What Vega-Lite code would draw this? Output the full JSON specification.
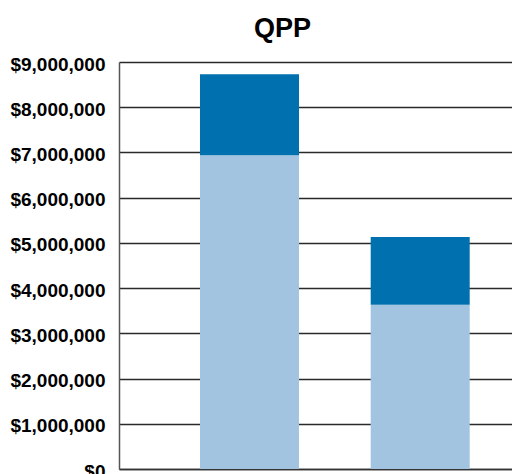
{
  "$schema": "https://vega.github.io/schema/vega-lite/v6.json",
  "autosize": "none",
  "width": 393,
  "height": 407,
  "padding": {"left": 119, "top": 62, "right": 0, "bottom": 5},
  "background": "white",
  "title": {
    "text": "QPP",
    "font": "Liberation Sans",
    "fontSize": 27,
    "fontWeight": "bold",
    "color": "#000000",
    "anchor": "middle",
    "dx": -33,
    "offset": 12
  },
  "data": {
    "values": [
      {"group": "A", "part": "base", "order": 1, "value": 6940000},
      {"group": "A", "part": "extra", "order": 2, "value": 1790000},
      {"group": "B", "part": "base", "order": 1, "value": 3630000},
      {"group": "B", "part": "extra", "order": 2, "value": 1500000}
    ]
  },
  "mark": {"type": "bar"},
  "encoding": {
    "x": {
      "field": "group",
      "type": "nominal",
      "scale": {"paddingInner": 0.42, "paddingOuter": 0.4745, "range": [0, 431.7]},
      "axis": {"title": null, "labels": false, "ticks": false, "domainColor": "#333333", "domainWidth": 1.5, "grid": false}
    },
    "y": {
      "field": "value",
      "type": "quantitative",
      "stack": "zero",
      "scale": {"domain": [0, 9000000], "nice": false},
      "axis": {
        "title": null,
        "values": [0, 1000000, 2000000, 3000000, 4000000, 5000000, 6000000, 7000000, 8000000, 9000000],
        "format": "$,.0f",
        "labelFont": "Liberation Sans",
        "labelFontWeight": "bold",
        "labelFontSize": 19,
        "labelColor": "#000000",
        "labelPadding": 14,
        "labelOffset": 2,
        "labelOverlap": false,
        "labelBound": false,
        "ticks": false,
        "domainColor": "#555555",
        "domainWidth": 1.5,
        "grid": true,
        "gridColor": "#2a2a2a",
        "gridWidth": 1.5,
        "gridOpacity": 1
      }
    },
    "color": {
      "field": "part",
      "type": "nominal",
      "scale": {"domain": ["base", "extra"], "range": ["#a3c4e1", "#0071ae"]},
      "legend": null
    },
    "order": {"field": "order", "type": "quantitative"}
  },
  "config": {"view": {"stroke": null}}
}
